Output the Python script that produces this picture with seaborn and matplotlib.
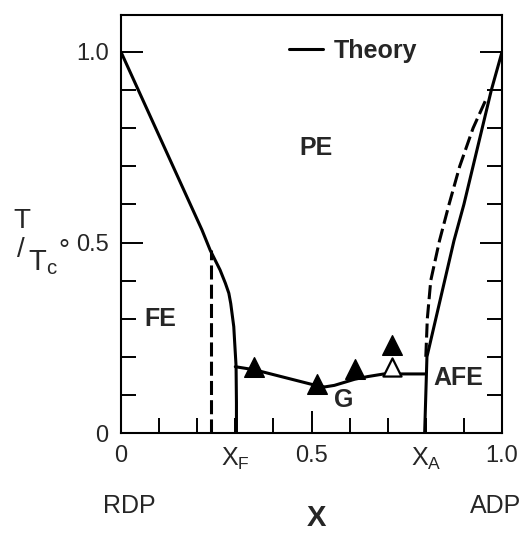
import matplotlib
matplotlib.use('Agg')
import matplotlib.pyplot as plt
import seaborn as sns

# Phasengrenzen (x = Anteil ADP, y = T/Tc0)
fe_x = [0.0, 0.2125, 0.234, 0.26, 0.274, 0.283, 0.288, 0.296, 0.298, 0.302, 0.303, 0.303]
fe_y = [1.0, 0.533, 0.48, 0.428, 0.393, 0.367, 0.34, 0.279, 0.244, 0.176, 0.08, 0.0]

fe_dash_x = [0.237, 0.237]
fe_dash_y = [0.0, 0.48]

afe_x = [1.0, 0.972, 0.948, 0.924, 0.90, 0.874, 0.803, 0.800, 0.797]
afe_y = [1.0, 0.90, 0.80, 0.70, 0.60, 0.505, 0.20, 0.10, 0.0]

afe_dash_x = [0.800, 0.804, 0.813, 0.836, 0.861, 0.889, 0.924, 0.96]
afe_dash_y = [0.20, 0.30, 0.40, 0.505, 0.60, 0.70, 0.80, 0.88]

glass_x = [0.30, 0.35, 0.515, 0.535, 0.56, 0.613, 0.647, 0.69, 0.797]
glass_y = [0.174, 0.166, 0.124, 0.121, 0.125, 0.141, 0.148, 0.155, 0.155]

# Messpunkte
meas_x = [0.35, 0.515, 0.613, 0.711]
meas_y = [0.174, 0.128, 0.168, 0.231]
open_x = [0.711]
open_y = [0.173]

W, H = 532, 533

sns.set_style('white')
plt.rcParams['font.family'] = ['Liberation Sans', 'DejaVu Sans']
plt.rcParams['mathtext.default'] = 'regular'

fig = plt.figure(figsize=(W / 100, H / 100), dpi=100)
ax = fig.add_axes([121 / W, 100 / H, 381 / W, 418 / H])

lw = 2.2
dash = (0, (4.6, 1.7))
sns.lineplot(x=fe_x, y=fe_y, sort=False, estimator=None, color='black', lw=lw, ax=ax, label='Theory')
sns.lineplot(x=afe_x, y=afe_y, sort=False, estimator=None, color='black', lw=lw, ax=ax)
sns.lineplot(x=glass_x, y=glass_y, sort=False, estimator=None, color='black', lw=lw, ax=ax)
sns.lineplot(x=fe_dash_x, y=fe_dash_y, sort=False, estimator=None, color='black', lw=lw,
             linestyle=dash, ax=ax)
sns.lineplot(x=afe_dash_x, y=afe_dash_y, sort=False, estimator=None, color='black', lw=lw,
             linestyle=dash, ax=ax)

sns.scatterplot(x=meas_x, y=meas_y, marker='^', s=200, color='black', edgecolor='black',
                linewidth=1, ax=ax, zorder=5)
sns.scatterplot(x=open_x, y=open_y, marker='^', s=170, facecolor='white', edgecolor='black',
                linewidth=1.6, ax=ax, zorder=5)

ax.set_xlim(0, 1.0)
ax.set_ylim(0, 418 / 381)

ax.set_xticks([0, 0.5, 1.0], ['0', '0.5', '1.0'])
ax.set_xticks([0.1, 0.2, 0.3, 0.4, 0.6, 0.7, 0.8, 0.9],
              ['', '', '$X_F$', '', '', '', '$X_A$', ''], minor=True)
ax.set_yticks([0, 0.5, 1.0], ['0', '0.5', '1.0'])
ax.set_yticks([0.1, 0.2, 0.3, 0.4, 0.6, 0.7, 0.8, 0.9], minor=True)

ax.tick_params(which='both', direction='in', left=True, right=True, bottom=True, top=False,
               width=1.4, color='black', labelsize=17, pad=9)
ax.tick_params(which='major', length=16)
ax.tick_params(which='minor', length=11, labelsize=18)
for s in ax.spines.values():
    s.set_linewidth(1.5)
    s.set_color('black')

# Legende
leg = ax.legend(loc='center left', bbox_to_anchor=(0.441, 0.914), frameon=False,
                borderpad=0, borderaxespad=0, handlelength=1.35, handletextpad=0.45,
                prop={'size': 18, 'weight': 'bold'})

# Bereichsbeschriftungen
lab = dict(ha='center', va='center', fontsize=18, fontweight='bold')
ax.text(0.513, 0.748, 'PE', **lab)
ax.text(0.102, 0.298, 'FE', **lab)
ax.text(0.584, 0.087, 'G', **lab)
ax.text(0.886, 0.144, 'AFE', **lab)

def ftxt(px, py, s, **kw):
    fig.text(px / W, 1 - py / H, s, ha='center', va='baseline', **kw)

ftxt(129, 513, 'RDP', fontsize=18)
ftxt(496, 513, 'ADP', fontsize=18)
ftxt(316, 526, 'X', fontsize=21, fontweight='bold')

# y-Achsenbeschriftung T/Tc°
ftxt(22, 228, 'T', fontsize=20)
ftxt(21, 257, '/', fontsize=20)
ftxt(43, 270, '$T_c$', fontsize=21)
fig.text(58 / W, 1 - 239 / H, '°', ha='left', va='top', fontsize=20)

fig.savefig('out.png', dpi=100)
